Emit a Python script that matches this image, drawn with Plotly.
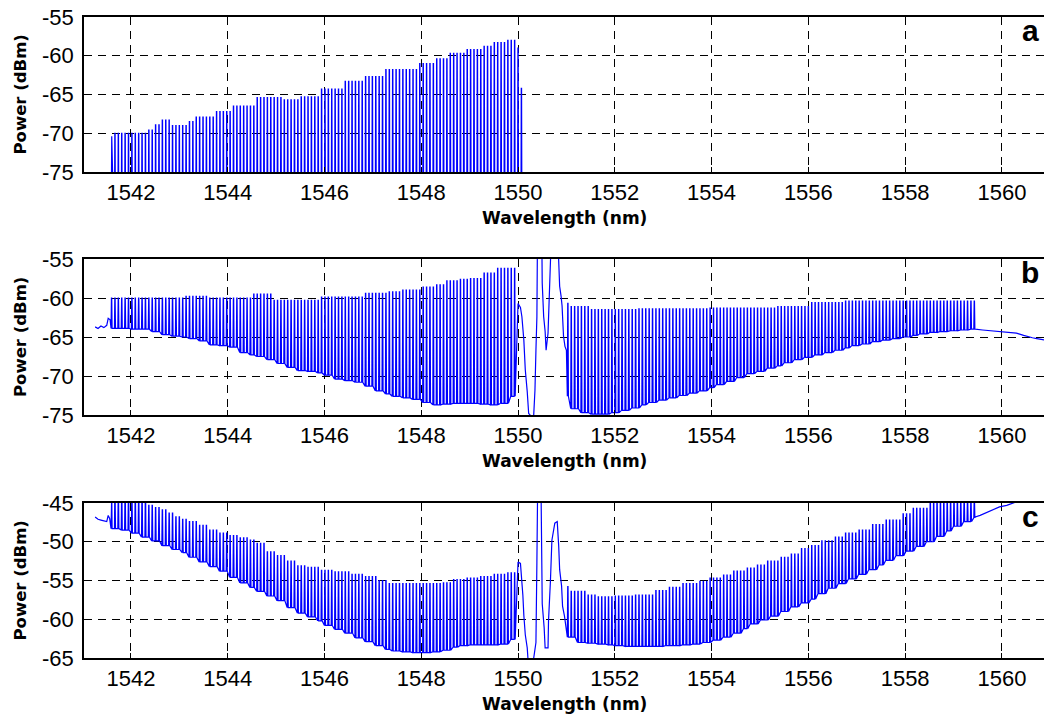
import numpy as np
import plotly.graph_objects as go

# ---------------- data ----------------
COMB_SPACING_NM = 0.07

# panel a : comb only (background below the visible range)
A_COMB_START, A_COMB_END = 1541.60, 1550.10
A_PEAK_WL = [1541.55, 1541.65, 1542.30, 1542.45, 1542.60, 1542.85, 1543.15, 1543.30,
             1543.70, 1544.10, 1544.60, 1545.10, 1545.50, 1545.90, 1546.40, 1546.80,
             1547.25, 1547.95, 1548.25, 1548.55, 1548.90, 1549.25, 1549.50, 1549.75,
             1549.98, 1550.06]
A_PEAK_DB = [-70.4, -70.0, -69.6, -68.9, -68.3, -69.0, -68.5, -67.9,
             -67.2, -66.5, -65.4, -65.7, -65.3, -64.3, -63.3, -62.7,
             -61.8, -61.0, -60.4, -59.7, -59.2, -58.8, -58.3, -58.0,
             -59.0, -64.2]
A_FLOOR_WL = [1541.50]
A_FLOOR_DB = [-85.0]

# panel b
B_ASE_L_WL = [1541.26, 1541.32, 1541.38, 1541.44, 1541.50, 1541.53, 1541.57]
B_ASE_L_DB = [-63.7, -63.9, -63.6, -63.8, -63.5, -62.6, -62.8]
B_COMB_L_START, B_COMB_L_END = 1541.60, 1549.95
B_PEAK_L_WL = [1541.60, 1543.10, 1543.60, 1544.50, 1544.90, 1545.90, 1546.80, 1547.30,
               1547.60, 1548.00, 1548.30, 1548.50, 1548.80, 1549.00, 1549.25, 1549.55]
B_PEAK_L_DB = [-60.0, -59.8, -60.0, -59.5, -60.3, -59.9, -59.4, -59.2,
               -59.0, -58.6, -58.3, -57.8, -57.6, -57.5, -56.8, -56.2]
B_FLOOR_L_WL = [1541.6, 1541.8, 1542.0, 1542.2, 1542.4, 1542.6, 1542.8, 1543.0, 1543.2,
                1543.4, 1543.6, 1543.8, 1544.0, 1544.2, 1544.4, 1544.6, 1544.8, 1545.0,
                1545.2, 1545.4, 1545.6, 1545.8, 1546.0, 1546.2, 1546.4, 1546.6, 1546.8,
                1547.0, 1547.2, 1547.4, 1547.6, 1547.8, 1548.0, 1548.2, 1548.4, 1548.6,
                1548.8, 1549.0, 1549.2, 1549.4, 1549.6, 1549.8]
B_FLOOR_L_DB = [-63.9, -63.9, -64.0, -64.0, -64.3, -64.7, -64.9, -65.0, -65.2,
                -65.5, -66.0, -66.1, -66.3, -67.0, -67.3, -67.5, -67.9, -68.4,
                -68.9, -69.3, -69.4, -69.6, -69.9, -70.4, -70.6, -70.8, -71.3,
                -71.9, -72.3, -72.6, -72.8, -73.0, -73.4, -73.7, -73.6, -73.5,
                -73.5, -73.5, -73.6, -73.7, -73.5, -72.6]
B_PUMP_WL = [1550.00, 1550.05, 1550.08, 1550.12, 1550.15, 1550.19, 1550.22, 1550.32,
             1550.35, 1550.37, 1550.39, 1550.41, 1550.48, 1550.50, 1550.53, 1550.56,
             1550.58, 1550.62, 1550.64, 1550.66, 1550.68, 1550.83, 1550.86, 1550.89,
             1550.91, 1550.94, 1550.97, 1551.00]
B_PUMP_DB = [-60.7, -61.2, -62.4, -65.4, -69.2, -72.0, -74.8, -75.5,
             -71.8, -66.7, -62.4, -45.0, -45.0, -58.1, -62.4, -64.3,
             -66.7, -64.5, -58.5, -55.5, -53.5, -53.5, -58.5, -59.8,
             -61.0, -64.9, -66.2, -66.7]
B_COMB_R_START, B_COMB_R_END = 1551.03, 1559.44
B_PEAK_R_WL = [1551.00, 1551.10, 1551.45, 1552.45, 1553.90, 1555.30, 1556.00, 1556.75]
B_PEAK_R_DB = [-60.7, -61.1, -61.5, -61.4, -61.3, -61.1, -60.6, -60.4]
B_FLOOR_R_WL = [1551.0, 1551.1, 1551.3, 1551.5, 1551.7, 1551.9, 1552.1, 1552.3, 1552.5,
                1552.7, 1552.9, 1553.1, 1553.3, 1553.5, 1553.7, 1553.9, 1554.1, 1554.3,
                1554.5, 1554.7, 1554.9, 1555.1, 1555.3, 1555.5, 1555.7, 1555.9, 1556.1,
                1556.3, 1556.5, 1556.7, 1556.9, 1557.1, 1557.3, 1557.5, 1557.7, 1557.9,
                1558.1, 1558.3, 1558.5, 1558.7, 1558.9, 1559.1, 1559.3]
B_FLOOR_R_DB = [-72.6, -74.2, -74.7, -74.9, -74.9, -74.7, -74.4, -74.1, -73.7,
                -73.4, -73.1, -72.8, -72.5, -72.2, -71.9, -71.5, -71.1, -70.7,
                -70.2, -69.7, -69.4, -69.0, -68.7, -68.3, -67.9, -67.6, -67.3,
                -67.0, -66.7, -66.4, -66.1, -65.9, -65.6, -65.4, -65.2, -65.0,
                -64.8, -64.6, -64.4, -64.3, -64.2, -64.1, -64.0]
B_ASE_R_WL = [1559.45, 1559.60, 1559.75, 1559.95, 1560.15, 1560.30, 1560.45, 1560.55,
              1560.63, 1560.72, 1560.80, 1560.90]
B_ASE_R_DB = [-64.0, -64.1, -64.2, -64.3, -64.4, -64.5, -64.8, -65.0,
              -65.1, -65.2, -65.3, -65.4]

# panel c
C_ASE_L_WL = [1541.26, 1541.32, 1541.38, 1541.43, 1541.50, 1541.53, 1541.56]
C_ASE_L_DB = [-46.8, -47.1, -47.2, -47.3, -47.4, -46.6, -47.0]
C_COMB_L_START, C_COMB_L_END = 1541.60, 1549.95
C_PEAK_L_WL = [1541.58, 1542.30, 1542.45, 1542.60, 1542.75, 1542.90, 1543.05, 1543.20,
               1543.40, 1543.60, 1543.80, 1544.00, 1544.20, 1544.40, 1544.60, 1544.80,
               1545.00, 1545.20, 1545.40, 1545.60, 1545.90, 1546.20, 1546.50, 1546.80,
               1547.10, 1547.30, 1548.40, 1548.60, 1548.90, 1549.20, 1549.50, 1549.75,
               1549.93]
C_PEAK_L_DB = [-44.0, -45.3, -45.6, -45.9, -46.3, -46.8, -47.1, -47.4,
               -47.9, -48.5, -48.9, -49.2, -49.5, -49.8, -50.2, -51.3,
               -51.8, -52.5, -53.1, -53.3, -53.7, -53.9, -54.2, -54.5,
               -55.0, -55.4, -55.3, -54.9, -54.7, -54.5, -54.2, -54.0,
               -52.6]
C_FLOOR_L_WL = [1541.6, 1541.8, 1542.0, 1542.2, 1542.4, 1542.6, 1542.8, 1543.0, 1543.2,
                1543.4, 1543.6, 1543.8, 1544.0, 1544.2, 1544.4, 1544.6, 1544.8, 1545.0,
                1545.2, 1545.4, 1545.6, 1545.8, 1546.0, 1546.2, 1546.4, 1546.6, 1546.8,
                1547.0, 1547.2, 1547.4, 1547.6, 1547.8, 1548.0, 1548.2, 1548.4, 1548.6,
                1548.8, 1549.0, 1549.2, 1549.4, 1549.6, 1549.8]
C_FLOOR_L_DB = [-48.3, -48.5, -48.9, -49.4, -49.9, -50.5, -51.0, -51.4, -52.0,
                -52.6, -53.2, -53.8, -54.6, -55.3, -55.9, -56.4, -57.0, -57.6,
                -58.5, -59.2, -59.7, -60.2, -60.8, -61.3, -61.8, -62.4, -62.9,
                -63.4, -63.9, -64.1, -64.2, -64.3, -64.3, -64.2, -64.0, -63.6,
                -63.4, -63.3, -63.3, -63.3, -63.2, -62.6]
C_PUMP_WL = [1550.00, 1550.05, 1550.07, 1550.10, 1550.12, 1550.15, 1550.19, 1550.21,
             1550.29, 1550.37, 1550.39, 1550.41, 1550.47, 1550.50, 1550.54, 1550.56,
             1550.62, 1550.63, 1550.67, 1550.70, 1550.76, 1550.81, 1550.84, 1550.86,
             1550.90, 1550.92, 1550.96, 1550.99]
C_PUMP_DB = [-52.6, -52.8, -54.3, -56.9, -59.5, -62.0, -63.7, -65.5,
             -66.5, -63.0, -52.6, -40.0, -40.0, -58.0, -61.1, -63.7,
             -63.7, -60.2, -55.0, -49.8, -47.6, -47.4, -50.5, -53.6,
             -55.7, -58.3, -59.6, -60.9]
C_COMB_R_START, C_COMB_R_END = 1551.03, 1559.44
C_PEAK_R_WL = [1551.00, 1551.10, 1551.40, 1551.60, 1552.00, 1552.40, 1552.80, 1553.10,
               1553.40, 1553.70, 1553.90, 1554.20, 1554.45, 1554.70, 1554.90, 1555.10,
               1555.40, 1555.60, 1555.80, 1556.00, 1556.25, 1556.50, 1556.75, 1557.00,
               1557.30, 1557.60, 1557.90, 1558.15, 1558.45]
C_PEAK_R_DB = [-55.8, -56.4, -56.9, -57.1, -57.0, -56.9, -56.3, -55.9,
               -55.4, -55.1, -54.7, -54.3, -53.8, -53.4, -53.0, -52.5,
               -52.0, -51.6, -50.9, -50.5, -49.9, -49.4, -48.9, -48.5,
               -47.8, -47.2, -46.4, -45.7, -44.5]
C_FLOOR_R_WL = [1551.0, 1551.2, 1551.4, 1551.6, 1551.8, 1552.0, 1552.2, 1552.4, 1552.6,
                1552.8, 1553.0, 1553.2, 1553.4, 1553.6, 1553.8, 1554.0, 1554.2, 1554.4,
                1554.6, 1554.8, 1555.0, 1555.2, 1555.4, 1555.6, 1555.8, 1556.0, 1556.2,
                1556.4, 1556.6, 1556.8, 1557.0, 1557.2, 1557.4, 1557.6, 1557.8, 1558.0,
                1558.2, 1558.4, 1558.6, 1558.8, 1559.0, 1559.2, 1559.4]
C_FLOOR_R_DB = [-62.3, -63.0, -63.1, -63.2, -63.3, -63.4, -63.5, -63.5, -63.5,
                -63.5, -63.4, -63.4, -63.3, -63.2, -63.0, -62.7, -62.3, -61.8,
                -61.2, -60.6, -60.1, -59.6, -59.0, -58.4, -57.9, -57.4, -56.7,
                -56.0, -55.4, -54.8, -54.2, -53.6, -53.0, -52.4, -51.8, -51.2,
                -50.6, -50.0, -49.3, -48.6, -48.0, -47.4, -46.9]
C_ASE_R_WL = [1559.45, 1559.55, 1559.65, 1559.74, 1559.85, 1559.95, 1560.10, 1560.24,
              1560.40, 1560.90]
C_ASE_R_DB = [-46.8, -46.6, -46.3, -46.1, -45.8, -45.5, -45.3, -45.0,
              -44.6, -43.5]

X_TICKS = [1542, 1544, 1546, 1548, 1550, 1552, 1554, 1556, 1558, 1560]
Y_TICKS_AB = [-75, -70, -65, -60, -55]
Y_TICKS_C = [-65, -60, -55, -50, -45]
PANEL_LABELS = ["a", "b", "c"]
X_TITLE = "Wavelength (nm)"
Y_TITLE = "Power (dBm)"

# ---------------- helpers ----------------
def lookup(wl, edges, vals):
    i = int(np.searchsorted(edges, wl, side="right")) - 1
    return vals[max(0, min(i, len(vals) - 1))]


def comb(start, end, pk_wl, pk_db, fl_wl, fl_db):
    xs, ys = [], []
    for w in np.arange(start, end + 1e-9, COMB_SPACING_NM):
        p = lookup(w, pk_wl, pk_db)
        f = lookup(w, fl_wl, fl_db)
        xs += [w - 0.011, w - 0.003, w + 0.003, w + 0.011]
        ys += [f, p, p, f]
    return xs, ys


# ---------------- build traces ----------------
ax, ay = comb(A_COMB_START, A_COMB_END, A_PEAK_WL, A_PEAK_DB, A_FLOOR_WL, A_FLOOR_DB)

bx, by = list(B_ASE_L_WL), list(B_ASE_L_DB)
x1, y1 = comb(B_COMB_L_START, B_COMB_L_END, B_PEAK_L_WL, B_PEAK_L_DB, B_FLOOR_L_WL, B_FLOOR_L_DB)
x2, y2 = comb(B_COMB_R_START, B_COMB_R_END, B_PEAK_R_WL, B_PEAK_R_DB, B_FLOOR_R_WL, B_FLOOR_R_DB)
bx += x1 + B_PUMP_WL + x2 + B_ASE_R_WL
by += y1 + B_PUMP_DB + y2 + B_ASE_R_DB

cx, cy = list(C_ASE_L_WL), list(C_ASE_L_DB)
x1, y1 = comb(C_COMB_L_START, C_COMB_L_END, C_PEAK_L_WL, C_PEAK_L_DB, C_FLOOR_L_WL, C_FLOOR_L_DB)
x2, y2 = comb(C_COMB_R_START, C_COMB_R_END, C_PEAK_R_WL, C_PEAK_R_DB, C_FLOOR_R_WL, C_FLOOR_R_DB)
cx += x1 + C_PUMP_WL + x2 + C_ASE_R_WL
cy += y1 + C_PUMP_DB + y2 + C_ASE_R_DB

# ---------------- layout geometry (pixels) ----------------
W, H = 1044, 716
L = 84
PANELS = [(17, 172), (259, 415), (503, 658)]  # (top, bottom) in px
X_RANGE = [1541.03, 1560.87]


def py(p):
    return (H - p) / H


def pxp(p):
    return (p - L) / (W - L)


fig = go.Figure()
line_style = dict(color="#0000ff", width=1.2)
for i, (xx, yy) in enumerate([(ax, ay), (bx, by), (cx, cy)]):
    sfx = "" if i == 0 else str(i + 1)
    fig.add_trace(go.Scatter(x=xx, y=yy, mode="lines", line=line_style,
                             xaxis="x" + sfx, yaxis="y" + sfx,
                             showlegend=False, hoverinfo="skip"))

tick_font = dict(family="Liberation Sans, Arial, sans-serif", size=22, color="black")
common_axis = dict(showline=True, linecolor="black", linewidth=1.5, automargin=False,
                   showgrid=True, gridcolor="black", gridwidth=1, griddash="8px,6px",
                   zeroline=False, ticks="inside", ticklen=5, tickcolor="black",
                   tickfont=tick_font)

layout = dict(width=W, height=H, margin=dict(l=L, r=0, t=0, b=0, autoexpand=False),
              paper_bgcolor="white", plot_bgcolor="white", showlegend=False)

annotations = []
for i, (top, bot) in enumerate(PANELS):
    sfx = "" if i == 0 else str(i + 1)
    yt = Y_TICKS_C if i == 2 else Y_TICKS_AB
    layout["xaxis" + sfx] = dict(common_axis, range=X_RANGE, domain=[0, 1],
                                 anchor="y" + sfx, mirror=True,
                                 tickvals=X_TICKS, ticktext=[str(v) for v in X_TICKS],
                                 ticklabelstandoff=0)
    layout["yaxis" + sfx] = dict(common_axis, range=[yt[0], yt[-1]],
                                 domain=[py(bot), py(top)], anchor="x" + sfx,
                                 tickvals=yt, ticktext=[str(v) for v in yt],
                                 ticklabelstandoff=4)
    annotations.append(dict(text=X_TITLE, x=pxp(564), y=py(bot + 46), xref="paper", yref="paper",
                            xanchor="center", yanchor="middle", showarrow=False,
                            font=dict(family="DejaVu Sans", size=17, color="black", weight="bold")))
    annotations.append(dict(text=Y_TITLE, x=pxp(20), y=py((top + bot) / 2), xref="paper", yref="paper",
                            xanchor="center", yanchor="middle", showarrow=False, textangle=-90,
                            font=dict(family="DejaVu Sans", size=16.5, color="black", weight="bold")))
    annotations.append(dict(text=PANEL_LABELS[i], x=pxp(1030), y=py(top + 13), xref="paper", yref="paper",
                            xanchor="center", yanchor="middle", showarrow=False,
                            font=dict(family="Liberation Sans, Arial, sans-serif", size=30,
                                      color="black", weight="bold")))
layout["annotations"] = annotations
fig.update_layout(**layout)

fig.write_html("out.html", config={"displayModeBar": False},
               post_script="document.body.style.margin='0';document.body.style.overflow='hidden';")
